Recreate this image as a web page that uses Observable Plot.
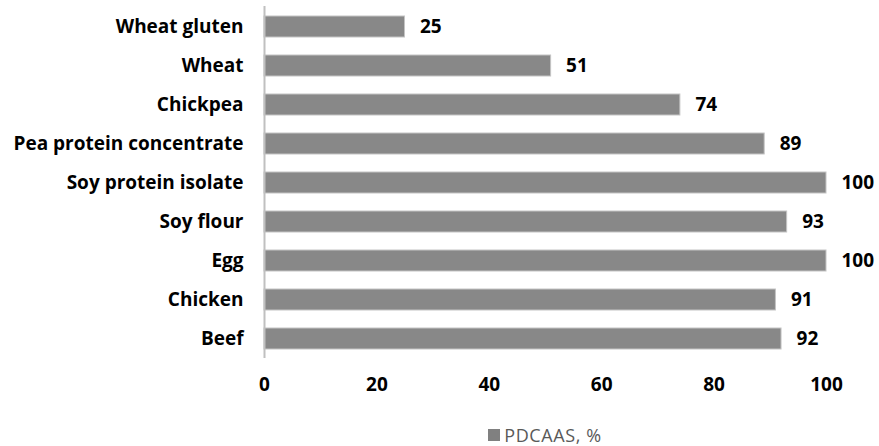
<!DOCTYPE html>
<html>
<head>
<meta charset="utf-8">
<script src="https://cdn.jsdelivr.net/npm/d3@7"></script>
<script src="https://cdn.jsdelivr.net/npm/@observablehq/plot@0.6"></script>
<style>
  body { margin: 0; background: #fff; font-family: "Open Sans", sans-serif; overflow: hidden; }
  #chart { width: 879px; }
  .legend { display: flex; justify-content: center; align-items: center; margin-top: 26px; padding-left: 211px; font-size: 18px; line-height: 18px; height: 18px; letter-spacing: 0.6px; color: #595959; }
  .legend .sw { width: 12px; height: 12px; background: #808080; margin-right: 4px; }
</style>
</head>
<body>
<div id="chart"></div>
<script>
const categories = ["Wheat gluten", "Wheat", "Chickpea", "Pea protein concentrate", "Soy protein isolate", "Soy flour", "Egg", "Chicken", "Beef"];
const values = [25, 51, 74, 89, 100, 93, 100, 91, 92];
const xTicks = [0, 20, 40, 60, 80, 100];
const seriesName = "PDCAAS, %";

const data = categories.map((c, i) => ({category: c, value: values[i]}));

const plot = Plot.plot({
  width: 879,
  height: 400,
  marginLeft: 264,
  marginRight: 53,
  marginTop: 6,
  marginBottom: 42,
  style: {fontFamily: "'Open Sans', sans-serif", fontSize: "19px", fontWeight: "bold", color: "#000"},
  x: {domain: [0, 100], ticks: xTicks, tickSize: 0, tickPadding: 19, label: null, tickFormat: d => d},
  y: {domain: categories, paddingInner: 0.47, paddingOuter: 0.2, tickSize: 0, tickPadding: 21, label: null},
  marks: [
    Plot.barX(data, {x: "value", y: "category", fill: "#888888", stroke: "#c4c4c4", strokeWidth: 1}),
    Plot.ruleX([0], {stroke: "#c0c0c0", strokeWidth: 2}),
    Plot.text(data, {x: "value", y: "category", text: d => String(d.value), textAnchor: "start", dx: 15, fontSize: 19, fontWeight: "bold", fill: "#000"})
  ]
});
document.getElementById("chart").appendChild(plot);

const legend = document.createElement("div");
legend.className = "legend";
legend.innerHTML = `<span class="sw"></span><span>${seriesName}</span>`;
document.getElementById("chart").appendChild(legend);
</script>
</body>
</html>
